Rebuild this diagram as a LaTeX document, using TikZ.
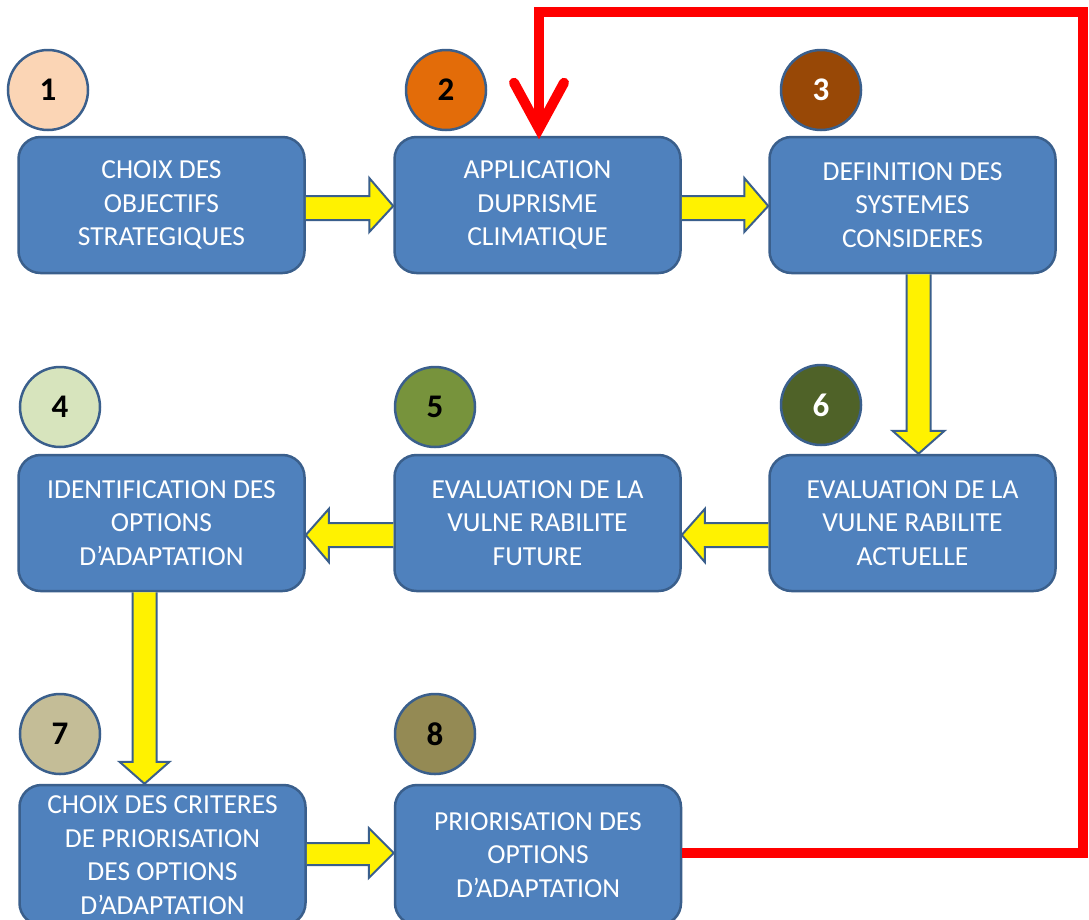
\documentclass[tikz,border=0pt]{standalone}
\usepackage{fontspec}
\setmainfont{Carlito}
\usetikzlibrary{calc}
\definecolor{boxblue}{HTML}{4F81BD}
\definecolor{boxborder}{HTML}{3A5F8C}
\definecolor{cA}{HTML}{FBD5B5}
\definecolor{cB}{HTML}{E36C09}
\definecolor{cC}{HTML}{984806}
\definecolor{cD}{HTML}{D7E4BD}
\definecolor{cE}{HTML}{77933C}
\definecolor{cF}{HTML}{4F6228}
\definecolor{cG}{HTML}{C4BD97}
\definecolor{cH}{HTML}{948A54}
\definecolor{redline}{HTML}{FF0000}
\begin{document}
\begin{tikzpicture}[x=1pt,y=-1pt,
  stepbox/.style={rectangle, rounded corners=22pt, draw=boxborder, fill=boxblue,
    line width=2.5pt, minimum width=286pt, minimum height=136pt, inner sep=0pt,
    text=white, align=center, font=\fontsize{27.5}{33.5}\selectfont},
  numdisc/.style={circle, draw=boxborder, line width=2.5pt, minimum size=80pt,
    inner sep=0pt, font=\fontsize{33}{33}\selectfont\bfseries},
  yarrow/.style={draw=boxborder, fill=yellow, line width=2pt, line join=miter},
  redpath/.style={draw=redline, line width=10pt, line join=miter}]
\useasboundingbox (0,0) rectangle (1089,919);
\fill[white] (0,0) rectangle (1089,919);
% boxes
\node[stepbox] (b1) at (161.5,205) {CHOIX DES\\OBJECTIFS\\STRATEGIQUES};
\node[stepbox] (b2) at (537.5,205) {APPLICATION\\DUPRISME\\CLIMATIQUE};
\node[stepbox] (b3) at (912.5,205) {DEFINITION DES\\SYSTEMES\\CONSIDERES};
\node[stepbox] (b4) at (161.5,523) {IDENTIFICATION DES\\OPTIONS\\D’ADAPTATION};
\node[stepbox] (b5) at (537.5,523) {EVALUATION DE LA\\VULNE RABILITE\\FUTURE};
\node[stepbox] (b6) at (912.5,523) {EVALUATION DE LA\\VULNE RABILITE\\ACTUELLE};
\node[stepbox, minimum height=140pt] (b7) at (162.5,855) {CHOIX DES CRITERES\\DE PRIORISATION\\DES OPTIONS\\D’ADAPTATION};
\node[stepbox, minimum height=140pt] (b8) at (538,855) {PRIORISATION DES\\OPTIONS\\D’ADAPTATION};
% number discs
\node[numdisc, fill=cA, text=black] (n1) at (48,90) {1};
\node[numdisc, fill=cB, text=black] (n2) at (446,90) {2};
\node[numdisc, fill=cC, text=white] (n3) at (821,90) {3};
\node[numdisc, fill=cD, text=black] (n4) at (60,407) {4};
\node[numdisc, fill=cE, text=black] (n5) at (435,407) {5};
\node[numdisc, fill=cF, text=white] (n6) at (821,405) {6};
\node[numdisc, fill=cG, text=black] (n7) at (60,734) {7};
\node[numdisc, fill=cH, text=black] (n8) at (435,734) {8};
% yellow block arrows
% 1 -> 2
\draw[yarrow] ($(b1.east)+(0,-9)$) -- ($(b2.west)+(-24,-9)$) -- ($(b2.west)+(-24,-27)$)
  -- ($(b2.west)+(0,1)$) -- ($(b2.west)+(-24,27)$) -- ($(b2.west)+(-24,15)$) -- ($(b1.east)+(0,15)$);
% 2 -> 3
\draw[yarrow] ($(b2.east)+(0,-9)$) -- ($(b3.west)+(-24,-9)$) -- ($(b3.west)+(-24,-27)$)
  -- ($(b3.west)+(0,1)$) -- ($(b3.west)+(-24,27)$) -- ($(b3.west)+(-24,15)$) -- ($(b2.east)+(0,15)$);
% 3 -> 6
\draw[yarrow] ($(b3.south)+(-6,0)$) -- ($(b6.north)+(-6,-23)$) -- ($(b6.north)+(-20,-23)$)
  -- ($(b6.north)+(6,0)$) -- ($(b6.north)+(32,-23)$) -- ($(b6.north)+(18,-23)$) -- ($(b3.south)+(18,0)$);
% 6 -> 5
\draw[yarrow] ($(b6.west)+(0,0)$) -- ($(b5.east)+(23,0)$) -- ($(b5.east)+(23,-14)$)
  -- ($(b5.east)+(0,12)$) -- ($(b5.east)+(23,39)$) -- ($(b5.east)+(23,24)$) -- ($(b6.west)+(0,24)$);
% 5 -> 4
\draw[yarrow] ($(b5.west)+(0,0)$) -- ($(b4.east)+(23,0)$) -- ($(b4.east)+(23,-14)$)
  -- ($(b4.east)+(0,12)$) -- ($(b4.east)+(23,39)$) -- ($(b4.east)+(23,24)$) -- ($(b5.west)+(0,24)$);
% 4 -> 7
\draw[yarrow] ($(b4.south)+(-29,0)$) -- ($(b7.north)+(-30,-22)$) -- ($(b7.north)+(-43,-22)$)
  -- ($(b7.north)+(-18,0)$) -- ($(b7.north)+(7,-22)$) -- ($(b7.north)+(-6,-22)$) -- ($(b4.south)+(-5,0)$);
% 7 -> 8
\draw[yarrow] ($(b7.east)+(0,-12)$) -- ($(b8.west)+(-25,-12)$) -- ($(b8.west)+(-25,-27)$)
  -- ($(b8.west)+(0,-2)$) -- ($(b8.west)+(-25,23)$) -- ($(b8.west)+(-25,10)$) -- ($(b7.east)+(0,10)$);
% red feedback loop
\coordinate (rc) at (1083,12);
\coordinate (rtip) at ($(b2.north)+(1.5,-7)$);
\draw[redpath] ($(b8.east)+(0,-2)$) -| (rc) -| (rtip);
\draw[redpath, line cap=round] ($(rtip)+(-25,-46)$) -- (rtip) -- ($(rtip)+(25,-46)$);
\end{tikzpicture}
\end{document}
